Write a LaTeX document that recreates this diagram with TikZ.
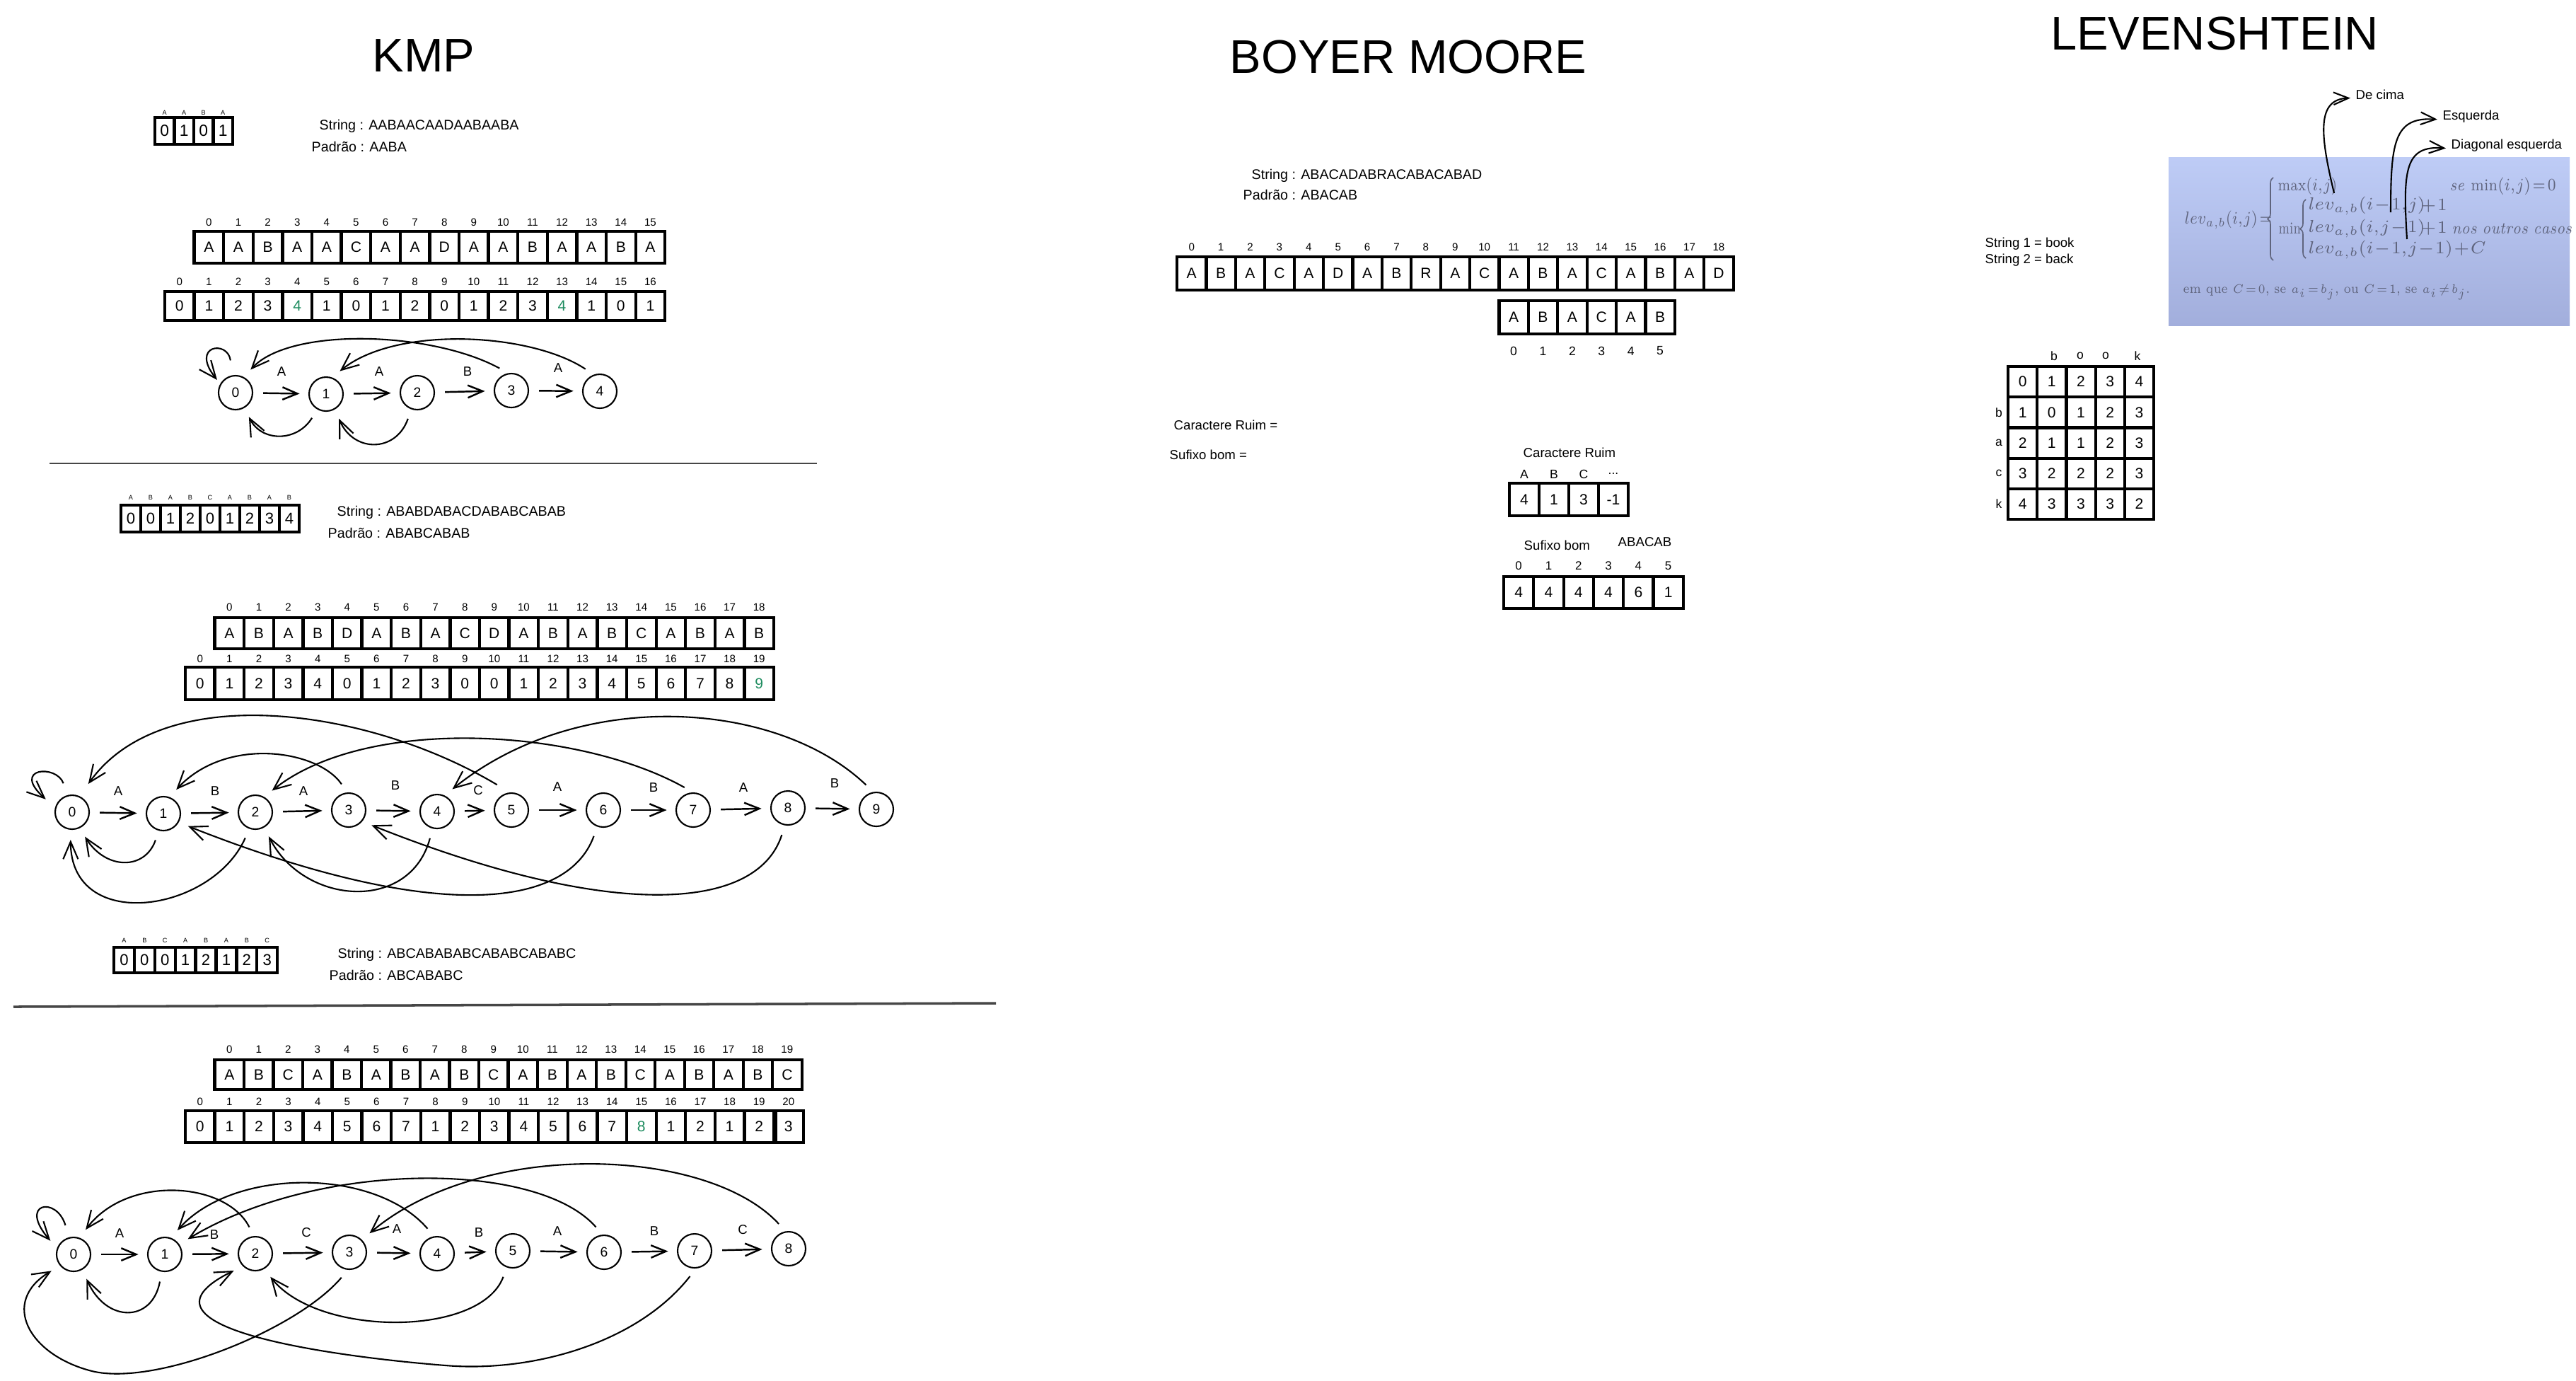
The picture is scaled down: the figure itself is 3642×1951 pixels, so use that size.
\documentclass[tikz,border=0pt]{standalone}
\usepackage{fontspec}
\usepackage{amsmath}
\usepackage{graphicx}
\usetikzlibrary{arrows.meta,decorations.pathreplacing}
\newfontfamily\arial{Liberation Sans}
\definecolor{tg}{RGB}{30,140,95}
\definecolor{sepc}{RGB}{70,70,70}
\definecolor{fgray}{RGB}{95,100,125}
\definecolor{blueA}{RGB}{190,204,246}
\definecolor{blueB}{RGB}{162,174,220}
\newcommand{\myfs}[1]{\fontsize{#1}{#1}\selectfont}
\newcommand{\gr}[1]{\textcolor{tg}{#1}}
\newcommand{\tightmath}{\medmuskip=1mu\thickmuskip=2mu\thinmuskip=1mu}
% name, x0, y0, w, h, fontsize, entries
\newcommand{\cellsrow}[7]{%
  \foreach \v [count=\i from 0] in {#7}{%
    \node[cellbox, minimum width={#4*0.1mm}, minimum height={#5*0.1mm}, font={\arial\myfs{#6}}] (#1-\i) at ({#2+(\i+0.5)*#4},{#3+0.5*#5}) {\v};
  }%
}
% name, x0, yc, w, last, fontsize
\newcommand{\idxrow}[6]{%
  \foreach \i in {0,...,#5}{%
    \node[inner sep=0pt, font={\arial\myfs{#6}}] (#1-\i) at ({#2+(\i+0.5)*#4},#3) {\i};
  }%
}
% name, x0, yc, w, fontsize, entries
\newcommand{\labrow}[6]{%
  \foreach \v [count=\i from 0] in {#6}{%
    \node[inner sep=0pt, font={\arial\myfs{#5}}] (#1-\i) at ({#2+(\i+0.5)*#4},#3) {\v};
  }%
}
\tikzset{
  cellbox/.style={draw, line width=1.2pt, inner sep=0pt},
  txt/.style={inner sep=0pt, anchor=base west, font={\arial\myfs{5.6}}},
  ttl/.style={inner sep=0pt, anchor=base, font={\arial\myfs{19}}},
  st/.style={draw, circle, line width=0.6pt, minimum size=4.8mm, inner sep=0pt, font={\arial\myfs{5.5}}},
  elab/.style={inner sep=0pt, font={\arial\myfs{5.3}}},
  fwd/.style={-{Straight Barb[length=6pt,width=5pt]}, line width=0.7pt, shorten <=4pt, shorten >=3.5pt},
  back/.style={-{Straight Barb[length=7pt,width=6pt]}, line width=0.6pt, shorten <=4pt, shorten >=4pt},
  levar/.style={-{Straight Barb[length=6pt,width=5pt]}, line width=0.6pt, shorten >=2pt},
  fm/.style={inner sep=0pt, anchor=west, text=fgray, font={\myfs{6.7}\tightmath}},
  fbrace/.style={decorate, decoration={brace, amplitude=0.8mm}, draw=fgray, line width=0.45pt},
}
\begin{document}
\begin{tikzpicture}[x=0.1mm,y=-0.1mm]
\useasboundingbox (0,0) rectangle (3642,1951);
\fill[white] (0,0) rectangle (3642,1951);

% ---------------- titles
\node[ttl] (tkmp) at (599,101) {KMP};
\node[ttl] (tbm) at (1991,103) {BOYER MOORE};
\node[ttl] (tlev) at (3131,70) {LEVENSHTEIN};

% ================= KMP 1
\cellsrow{s1}{219}{166}{27.5}{38}{6.5}{0,1,0,1}
\labrow{s1l}{219}{159}{27.5}{2.6}{A,A,B,A}
\node[txt] (s1str) at (451,183) {String : AABAACAADAABAABA};
\node[txt] (s1pad) at (440,214) {Padrão : AABA};
\cellsrow{t1}{274.6}{327}{41.6}{45}{6}{A,A,B,A,A,C,A,A,D,A,A,B,A,A,B,A}
\idxrow{t1i}{274.6}{314}{41.6}{15}{4.3}
\cellsrow{u1}{233}{412}{41.6}{41}{6}{0,1,2,3,\gr{4},1,0,1,2,0,1,2,3,\gr{4},1,0,1}
\idxrow{u1i}{233}{398}{41.6}{16}{4.3}

\foreach \x/\y [count=\i from 0] in {333/555,461/557,590/555,723/552,848/553}
  \node[st] (a\i) at (\x,\y) {\i};
\foreach \i in {0,...,3}{\pgfmathtruncatemacro\j{\i+1}\draw[fwd] (a\i) -- (a\j);}
\foreach \x/\y/\t [count=\i] in {398/525/A,536/525/A,661/525/B,789/520/A}
  \node[elab] (la\i) at (\x,\y) {\t};
\draw[back, shorten <=6pt, shorten >=2pt] (a0.100) .. controls (322,480) and (268,488) .. (a0.150);
\draw[back] (a3.100) .. controls (610,468) and (410,462) .. (a0.62);
\draw[back] (a4.110) .. controls (750,470) and (560,460) .. (a1.70);
\draw[back] (a1.240) .. controls (420,625) and (370,625) .. (a0.300);
\draw[back] (a2.250) .. controls (560,640) and (500,640) .. (a1.300);

\draw[line width=0.6pt, sepc] (70,655) -- (1155,655);

% ================= KMP 2
\cellsrow{s2}{171}{714}{28}{38}{6.3}{0,0,1,2,0,1,2,3,4}
\labrow{s2l}{171}{703}{28}{2.6}{A,B,A,B,C,A,B,A,B}
\node[txt] (s2str) at (476,729) {String : ABABDABACDABABCABAB};
\node[txt] (s2pad) at (463,760) {Padrão : ABABCABAB};
\cellsrow{t2}{303.6}{873}{41.6}{44}{6}{A,B,A,B,D,A,B,A,C,D,A,B,A,B,C,A,B,A,B}
\idxrow{t2i}{303.6}{858}{41.6}{18}{4.3}
\cellsrow{u2}{262}{943}{41.6}{46}{6}{0,1,2,3,4,0,1,2,3,0,0,1,2,3,4,5,6,7,8,\gr{9}}
\idxrow{u2i}{262}{931}{41.6}{19}{4.3}

\foreach \x/\y [count=\i from 0] in {102/1148,231/1150,361/1148,493/1145,618/1147,723/1145,853/1145,980/1145,1114/1142,1239/1144}
  \node[st] (b\i) at (\x,\y) {\i};
\foreach \i in {0,...,8}{\pgfmathtruncatemacro\j{\i+1}\draw[fwd] (b\i) -- (b\j);}
\foreach \x/\y/\t [count=\i] in {167/1118/A,304/1118/B,429/1118/A,559/1110/B,676/1117/C,788/1112/A,924/1113/B,1051/1113/A,1180/1107/B}
  \node[elab] (lb\i) at (\x,\y) {\t};
\draw[back, shorten <=5pt, shorten >=5pt] (b0.105) .. controls (80,1080) and (15,1085) .. (b0.165);
\draw[back, shorten <=6pt, shorten >=6pt] (b5.95) .. controls (520,1000) and (230,960) .. (b0.65);
\draw[back] (b3.95) .. controls (450,1060) and (320,1040) .. (b1.70);
\draw[back] (b7.90) .. controls (820,1030) and (520,1010) .. (b2.60);
\draw[back] (b9.100) .. controls (1100,990) and (820,970) .. (b4.65);
\draw[back] (b1.255) .. controls (205,1230) and (150,1230) .. (b0.295);
\draw[back] (b2.250) .. controls (300,1290) and (100,1320) .. (b0.265);
\draw[back] (b4.255) .. controls (580,1290) and (430,1280) .. (b2.300);
\draw[back] (b6.250) .. controls (800,1290) and (600,1300) .. (b1.330);
\draw[back] (b8.260) .. controls (1070,1290) and (860,1300) .. (b3.320);

% ================= KMP 3
\cellsrow{s3}{161}{1339}{28.9}{36}{6.3}{0,0,0,1,2,1,2,3}
\labrow{s3l}{161}{1329}{28.9}{2.6}{A,B,C,A,B,A,B,C}
\node[txt] (s3str) at (477,1354) {String : ABCABABABCABABCABABC};
\node[txt] (s3pad) at (465,1385) {Padrão : ABCABABC};
\draw[line width=1pt, sepc] (19,1423) -- (1408,1418);
\cellsrow{t3}{303.6}{1498}{41.5}{42}{6}{A,B,C,A,B,A,B,A,B,C,A,B,A,B,C,A,B,A,B,C}
\idxrow{t3i}{303.6}{1483}{41.5}{19}{4.3}
\cellsrow{u3}{262}{1570}{41.6}{45}{6}{0,1,2,3,4,5,6,7,1,2,3,4,5,6,7,\gr{8},1,2,1,2,3}
\idxrow{u3i}{262}{1557}{41.6}{20}{4.3}
\draw[line width=1.2pt] (u3-20.north west) ++(5,0) -- ++(0,45);

\foreach \x/\y [count=\i from 0] in {104/1773,233/1773,361/1772,494/1770,618/1772,725/1768,854/1770,982/1768,1115/1765}
  \node[st] (d\i) at (\x,\y) {\i};
\foreach \i in {0,...,7}{\pgfmathtruncatemacro\j{\i+1}\draw[fwd] (d\i) -- (d\j);}
\foreach \x/\y/\t [count=\i] in {169/1743/A,303/1745/B,433/1742/C,561/1737/A,677/1742/B,788/1740/A,925/1740/B,1050/1738/C}
  \node[elab] (ld\i) at (\x,\y) {\t};
\draw[back, shorten <=5pt, shorten >=4pt] (d0.105) .. controls (80,1690) and (25,1700) .. (d0.160);
\draw[back] (d2.95) .. controls (320,1670) and (180,1660) .. (d0.70);
\draw[back] (d4.100) .. controls (530,1650) and (330,1650) .. (d1.70);
\draw[back] (d6.95) .. controls (760,1640) and (450,1640) .. (d1.35);
\draw[back] (d8.100) .. controls (1000,1620) and (680,1610) .. (d3.45);
\draw[back] (d1.260) .. controls (215,1870) and (150,1870) .. (d0.300);
\draw[back] (d3.265) .. controls (420,1880) and (220,1960) .. (130,1938) .. controls (40,1915) and (0,1840) .. (d0.220);
\draw[back] (d5.250) .. controls (680,1890) and (450,1890) .. (d2.300);
\draw[back] (d7.275) .. controls (900,1900) and (750,1940) .. (630,1930) .. controls (500,1920) and (160,1880) .. (d2.225);

% ================= BOYER MOORE
\node[txt] (bmstr) at (1769,253) {String : ABACADABRACABACABAD};
\node[txt] (bmpad) at (1757,282) {Padrão : ABACAB};
\cellsrow{bm}{1664}{363}{41.4}{47}{6}{A,B,A,C,A,D,A,B,R,A,C,A,B,A,C,A,B,A,D}
\idxrow{bmi}{1664}{349}{41.4}{18}{4.3}
\cellsrow{bp}{2119.4}{425}{41.4}{47}{6}{A,B,A,C,A,B}
\idxrow{bpi}{2119.4}{496}{41.4}{5}{5}
\node[txt, font={\arial\myfs{5.3}}] (crq) at (1659,607) {Caractere Ruim =};
\node[txt, font={\arial\myfs{5.3}}] (sbq) at (1653,649) {Sufixo bom =};
\node[txt, font={\arial\myfs{5.3}}] (crt) at (2153,646) {Caractere Ruim};
\labrow{bcl}{2134}{670}{42}{5}{A,B,C}
\node[inner sep=0pt, font={\arial\myfs{5}}] (bcl-3) at (2281,670) {...};
\cellsrow{bc}{2134}{683}{42}{46}{6}{4,1,3,-1}
\node[txt, font={\arial\myfs{5.3}}] (sbt) at (2154,777) {Sufixo bom};
\node[txt, font={\arial\myfs{5.3}}] (sbp) at (2287,772) {ABACAB};
\idxrow{gsi}{2126}{800}{42.3}{5}{4.8}
\cellsrow{gs}{2126}{815}{42.3}{45}{6}{4,4,4,4,6,1}

% ================= LEVENSHTEIN
\node[txt, font={\arial\myfs{5.3}}] (ls1) at (2806,349) {String 1 = book};
\node[txt, font={\arial\myfs{5.3}}] (ls2) at (2806,372) {String 2 = back};
\shade[top color=blueA, bottom color=blueB] (3066,222) rectangle (3633,460);
\node[fm] (flhs) at (3088,311) {\scalebox{0.82}[1]{$lev_{a,b}(i,j) =$}};
\draw[fbrace] (3214,368) -- (3214,251);
\node[fm] (fmax) at (3220,263) {\scalebox{0.8}[1]{$\max(i,j)$}};
\node[fm] (fse) at (3463,263) {\scalebox{0.85}[1]{$\mathit{se}\ \min(i,j) = 0$}};
\node[fm] (fmin) at (3221,323) {\scalebox{0.7}[1]{$\min$}};
\draw[fbrace] (3260,365) -- (3260,282);
\node[fm] (fl1) at (3263,291) {$lev_{a,b}(i-1,j)$};
\node[fm] (fp1) at (3422,291) {$+\,1$};
\node[fm] (fl2) at (3263,323) {$lev_{a,b}(i,j-1)$};
\node[fm] (fp2) at (3422,323) {$+\,1$};
\node[fm] (fnos) at (3466,323) {\scalebox{0.85}[1]{$\mathit{nos\ outros\ casos}$}};
\node[fm] (fl3) at (3263,353) {$lev_{a,b}(i-1,j-1) + C$};
\node[fm, font={\myfs{5.5}\tightmath}] (fem) at (3086,413) {\scalebox{0.85}[1]{em que $C = 0$, se $a_i = b_j$, ou $C = 1$, se $a_i \neq b_j$.}};

\node[txt, font={\arial\myfs{5.3}}] (decima) at (3330,140) {De cima};
\node[txt, font={\arial\myfs{5.3}}] (esq) at (3453,169) {Esquerda};
\node[txt, font={\arial\myfs{5.3}}] (diag) at (3465,210) {Diagonal esquerda};
\coordinate (lvs1) at (3300,273);
\coordinate (lvs2) at (3380,300);
\coordinate (lvs3) at (3403,338);
\draw[levar] (lvs1) .. controls (3280,190) and (3275,140) .. ([yshift=-0.5mm]decima.west);
\draw[levar] (lvs2) .. controls (3380,200) and (3385,165) .. ([yshift=-0.5mm]esq.west);
\draw[levar] (lvs3) .. controls (3397,240) and (3400,205) .. ([yshift=-0.5mm]diag.west);

% table
\foreach \row [count=\r from 0] in {{0,1,2,3,4},{1,0,1,2,3},{2,1,1,2,3},{3,2,2,2,3},{4,3,3,3,2}}{
  \foreach \v [count=\c from 0] in \row {
    \node[cellbox, minimum width=4.12mm, minimum height=4.32mm, font={\arial\myfs{6}}] (lv-\r-\c) at ({2839+(\c+0.5)*41.2},{518+(\r+0.5)*43.2}) {\v};
  }
}
\foreach \t/\x [count=\i] in {b/2904,o/2941,o/2977,k/3022}
  \node[inner sep=0pt, font={\arial\myfs{5}}] (lvc\i) at (\x,503) {\t};
\foreach \t [count=\i] in {b,a,c,k}
  \node[inner sep=0pt, font={\arial\myfs{5}}] (lvr\i) at (2826,{518+(\i+0.5)*43.2}) {\t};
\end{tikzpicture}
\end{document}
